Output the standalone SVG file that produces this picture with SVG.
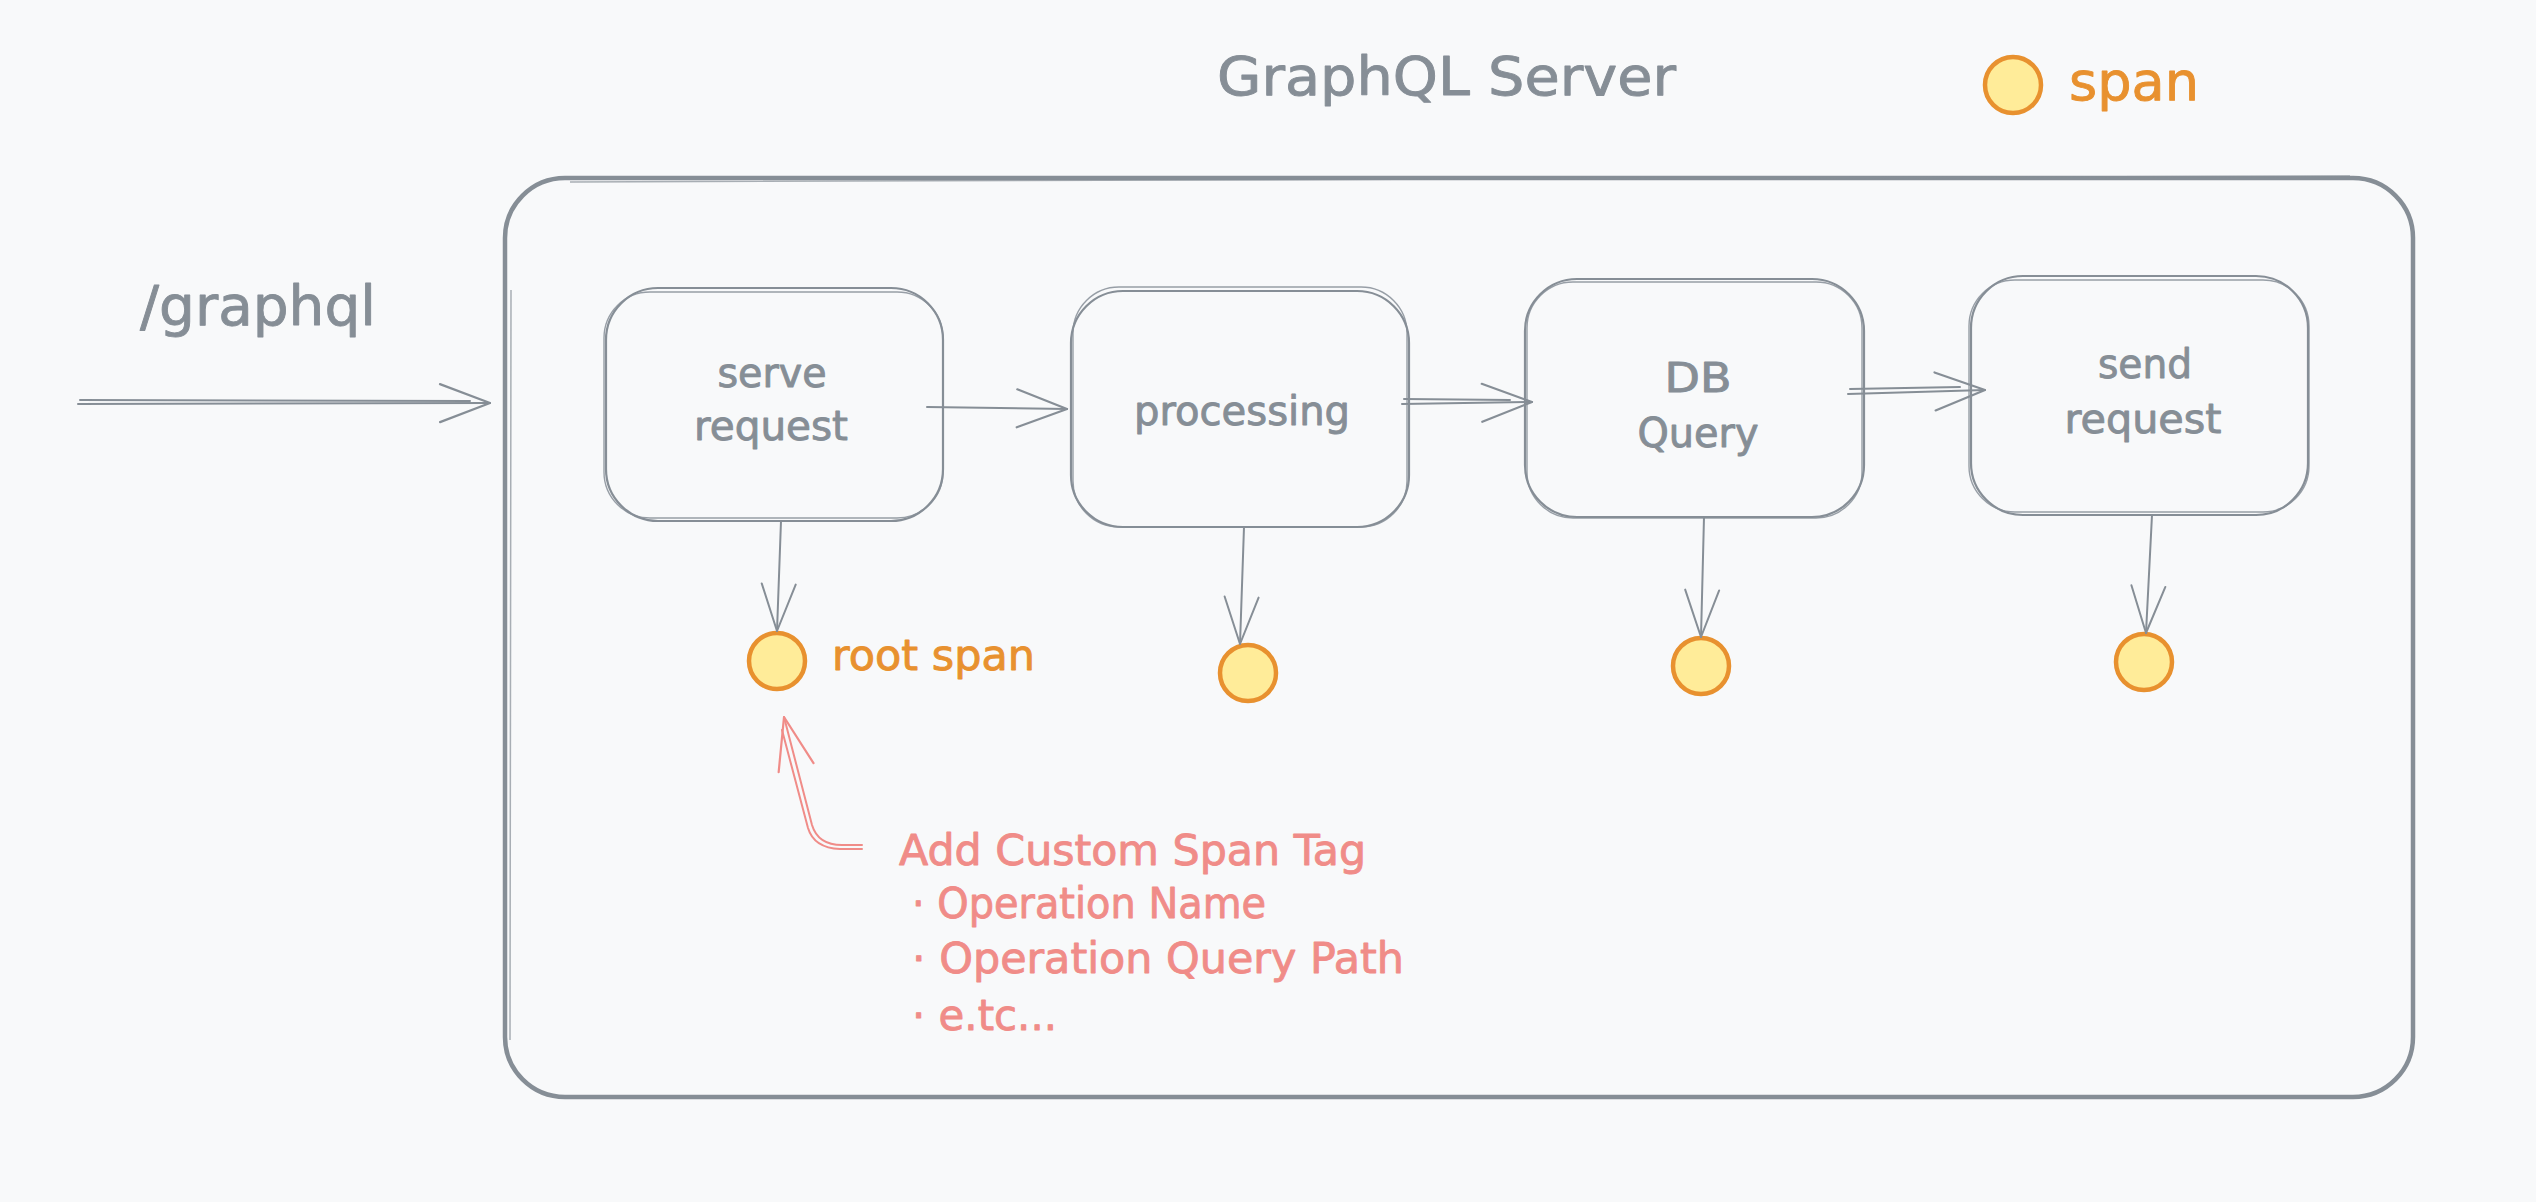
<svg xmlns="http://www.w3.org/2000/svg" width="2536" height="1202" viewBox="0 0 2536 1202">
  <defs>
    <style>
      .t { font-family: "DejaVu Sans", "Liberation Sans", sans-serif; stroke-width: 0.9; stroke-linejoin: round; }
      .gray { fill: #868e96; stroke: #868e96; }
      .orange { fill: #e8912f; stroke: #e8912f; }
      .red { fill: #f08c88; stroke: #f08c88; }
      .box { fill: none; stroke: #868e96; stroke-width: 2.2; }
      .box2 { fill: none; stroke: #868e96; stroke-width: 1.4; stroke-opacity: 0.85; }
      .edge { fill: none; stroke: #868e96; stroke-width: 2; stroke-linecap: round; }
      .dot { fill: #ffec99; stroke: #e8912f; stroke-width: 4.5; }
      .redline { fill: none; stroke: #f08c88; stroke-width: 2; stroke-linecap: round; }
    </style>
    <marker id="ah" markerUnits="userSpaceOnUse" markerWidth="60" markerHeight="50" viewBox="-55 -25 60 50" refX="0" refY="0" orient="auto">
      <path d="M -50 -19 L 0 0 L -50 19" fill="none" stroke="#868e96" stroke-width="2.2" stroke-linecap="round" stroke-linejoin="round"/>
    </marker>
    <marker id="ahv" markerUnits="userSpaceOnUse" markerWidth="60" markerHeight="50" viewBox="-55 -25 60 50" refX="0" refY="0" orient="auto">
      <path d="M -47 -17 L 0 0 L -47 17" fill="none" stroke="#868e96" stroke-width="2" stroke-linecap="round" stroke-linejoin="round"/>
    </marker>
    <marker id="ahr" markerUnits="userSpaceOnUse" markerWidth="60" markerHeight="50" viewBox="-55 -25 60 50" refX="0" refY="0" orient="auto">
      <path d="M -52 -19 L 0 0 L -52 17" fill="none" stroke="#f08c88" stroke-width="2.2" stroke-linecap="round" stroke-linejoin="round"/>
    </marker>
  </defs>

  <rect x="0" y="0" width="2536" height="1202" fill="#f8f9fa"/>

  <!-- Title and legend -->
  <g id="title">
    <text class="t gray" x="1217" y="95" font-size="54" textLength="459" lengthAdjust="spacingAndGlyphs">GraphQL Server</text>
  </g>
  <g id="legend">
    <circle class="dot" cx="2013" cy="85" r="28"/>
    <text class="t orange" x="2069" y="100" font-size="54" textLength="130" lengthAdjust="spacingAndGlyphs">span</text>
  </g>
  <g id="endpoint">
    <text class="t gray" x="140" y="325" font-size="56" textLength="236" lengthAdjust="spacingAndGlyphs">/graphql</text>
  </g>

  <!-- Container -->
  <g id="graphql-server">
    <rect x="505" y="178" width="1908" height="919" rx="60" fill="none" stroke="#868e96" stroke-width="4.5"/>
    <path d="M 511 290 L 510 1040 M 570 182 L 2350 176" fill="none" stroke="#868e96" stroke-width="1.5" stroke-opacity="0.7"/>
  </g>

  <!-- Nodes -->
  <g id="serve-request">
    <rect class="box" x="606" y="288" width="337" height="233" rx="52"/>
    <rect class="box2" x="604" y="292" width="339" height="226" rx="46"/>
    <text class="t gray" x="772" y="387" font-size="40" text-anchor="middle" textLength="109" lengthAdjust="spacingAndGlyphs">serve</text>
    <text class="t gray" x="771" y="440" font-size="40" text-anchor="middle" textLength="154" lengthAdjust="spacingAndGlyphs">request</text>
  </g>
  <g id="processing">
    <rect class="box" x="1071" y="291" width="338" height="236" rx="52"/>
    <rect class="box2" x="1073" y="287" width="334" height="240" rx="46"/>
    <text class="t gray" x="1242" y="425" font-size="40" text-anchor="middle" textLength="216" lengthAdjust="spacingAndGlyphs">processing</text>
  </g>
  <g id="db-query">
    <rect class="box" x="1525" y="279" width="339" height="238" rx="52"/>
    <rect class="box2" x="1527" y="282" width="335" height="236" rx="46"/>
    <text class="t gray" x="1698" y="392" font-size="40" text-anchor="middle" textLength="67" lengthAdjust="spacingAndGlyphs">DB</text>
    <text class="t gray" x="1698" y="447" font-size="40" text-anchor="middle" textLength="121" lengthAdjust="spacingAndGlyphs">Query</text>
  </g>
  <g id="send-request">
    <rect class="box" x="1971" y="276" width="337" height="239" rx="52"/>
    <rect class="box2" x="1969" y="280" width="340" height="232" rx="46"/>
    <text class="t gray" x="2145" y="378" font-size="40" text-anchor="middle" textLength="94" lengthAdjust="spacingAndGlyphs">send</text>
    <text class="t gray" x="2143" y="433" font-size="40" text-anchor="middle" textLength="157" lengthAdjust="spacingAndGlyphs">request</text>
  </g>

  <!-- Spans -->
  <g id="root-span">
    <circle class="dot" cx="777" cy="661" r="28"/>
    <text class="t orange" x="832" y="670" font-size="42" textLength="203" lengthAdjust="spacingAndGlyphs">root span</text>
  </g>
  <g id="span-processing">
    <circle class="dot" cx="1248" cy="673" r="28"/>
  </g>
  <g id="span-db">
    <circle class="dot" cx="1701" cy="666" r="28"/>
  </g>
  <g id="span-send">
    <circle class="dot" cx="2144" cy="662" r="28"/>
  </g>

  <!-- Annotation -->
  <g id="annotation">
    <text class="t red" x="899" y="865" font-size="42" textLength="467" lengthAdjust="spacingAndGlyphs">Add Custom Span Tag</text>
    <text class="t red" x="912" y="918" font-size="42" textLength="354" lengthAdjust="spacingAndGlyphs">· Operation Name</text>
    <text class="t red" x="912" y="973" font-size="42" textLength="492" lengthAdjust="spacingAndGlyphs">· Operation Query Path</text>
    <text class="t red" x="912" y="1030" font-size="42" textLength="145" lengthAdjust="spacingAndGlyphs">· e.tc...</text>
  </g>

  <!-- Connectors -->
  <g id="connectors">
    <path class="edge" d="M 78 404 L 490 403" stroke-width="2.6" marker-end="url(#ah)"/>
    <path class="edge" d="M 80 400 L 470 401" stroke-width="1.4"/>
    <path class="edge" d="M 927 407 L 1067 409" marker-end="url(#ah)"/>
    <path class="edge" d="M 1402 404 L 1532 402" marker-end="url(#ah)"/>
    <path class="edge" d="M 1404 399 L 1510 400" stroke-width="1.4"/>
    <path class="edge" d="M 1848 394 L 1985 390" marker-end="url(#ah)"/>
    <path class="edge" d="M 1850 389 L 1960 387" stroke-width="1.4"/>
    <path class="edge" d="M 781 521 L 777 631" marker-end="url(#ahv)"/>
    <path class="edge" d="M 1244 527 L 1240 644" marker-end="url(#ahv)"/>
    <path class="edge" d="M 1704 517 L 1701 637" marker-end="url(#ahv)"/>
    <path class="edge" d="M 2152 515 L 2146 633" marker-end="url(#ahv)"/>
    <path class="redline" d="M 862 845 L 842 845 Q 818 845 812 825 L 784 717" marker-end="url(#ahr)"/>
    <path class="redline" d="M 862 849 L 840 849 Q 814 848 808 828 L 782 730" stroke-width="1.4"/>
  </g>
</svg>
